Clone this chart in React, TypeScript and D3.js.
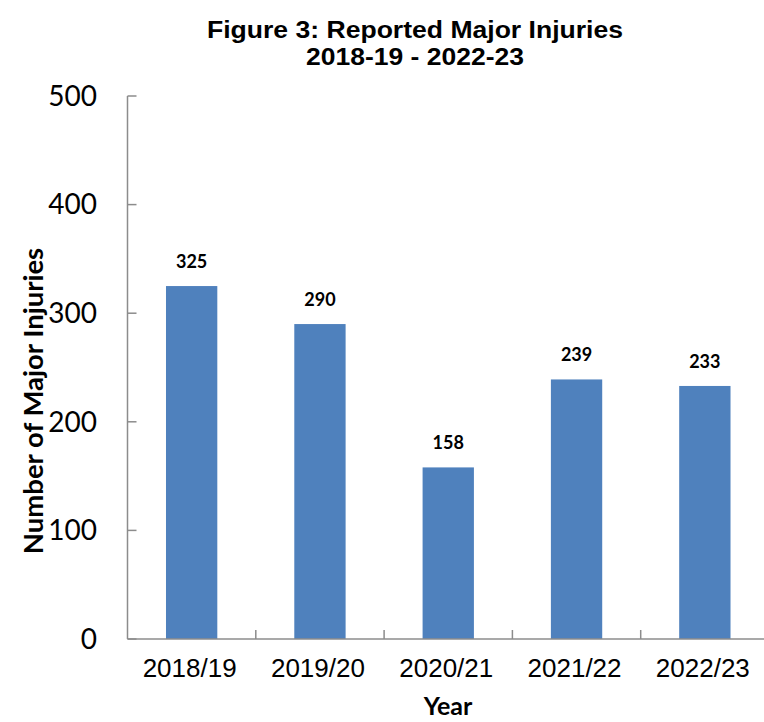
import React from "react";
import * as d3 from "d3";

const categories = ["2018/19", "2019/20", "2020/21", "2021/22", "2022/23"];
const values = [325, 290, 158, 239, 233];
const yTicks = [0, 100, 200, 300, 400, 500];
const titleLines = ["Figure 3: Reported Major Injuries", "2018-19 - 2022-23"];
const titleWidths = [416, 218];
const xTitle = "Year";
const yTitle = "Number of Major Injuries";

export default function App() {
  const W = 764, H = 722;
  const left = 127.5, right = 769, top = 96, bottom = 639;
  const x = d3.scaleBand<string>().domain(categories).range([left, right]).paddingInner(0.6).paddingOuter(0.3);
  const xb = d3.scaleBand<string>().domain(categories).range([left, right]);
  const y = d3.scaleLinear().domain([0, 500]).range([bottom, top]);
  const axisColor = "#8c8c8c";
  return (
    <svg width={W} height={H} style={{ position: "absolute", left: 0, top: 0, background: "#fff" }}>
      {titleLines.map((t, i) => (
        <text key={i} x={415} y={38 + i * 27} textAnchor="middle" textLength={titleWidths[i]} lengthAdjust="spacingAndGlyphs" fontFamily="'Liberation Sans', Arial" fontWeight="bold" fontSize={23} fill="#000">{t}</text>
      ))}
      {values.map((v, i) => (
        <g key={i}>
          <rect x={x(categories[i])} y={y(v)} width={x.bandwidth()} height={y(0) - y(v)} fill="#4F81BD" />
          <text x={x(categories[i])! + x.bandwidth() / 2} y={y(v) - 18} textAnchor="middle" fontFamily="Lato, 'Open Sans', sans-serif" fontWeight="bold" fontSize={18} fill="#000">{v}</text>
        </g>
      ))}
      <line x1={left} x2={left} y1={top} y2={bottom} stroke={axisColor} strokeWidth={1.5} />
      <line x1={left} x2={right} y1={bottom} y2={bottom} stroke={axisColor} strokeWidth={1.5} />
      {yTicks.map((t) => (
        <g key={t}>
          <line x1={left} x2={left + 9} y1={y(t)} y2={y(t)} stroke={axisColor} strokeWidth={1.5} />
          <text x={97} y={y(t)} dy="0.35em" textAnchor="end" fontFamily="Lato, 'Open Sans', sans-serif" fontSize={28} fill="#000">{t}</text>
        </g>
      ))}
      {categories.slice(1).map((c) => (
        <line key={c} x1={xb(c)} x2={xb(c)} y1={bottom} y2={bottom - 9} stroke={axisColor} strokeWidth={1.5} />
      ))}
      {categories.map((c) => (
        <text key={c} x={xb(c)! + xb.bandwidth() / 2 - 2} y={677} textAnchor="middle" fontFamily="'Liberation Sans', Arial" fontSize={26} fill="#000">{c}</text>
      ))}
      <text x={448} y={715} textAnchor="middle" fontFamily="Lato, 'Open Sans', sans-serif" fontWeight="bold" fontSize={25} fill="#000">{xTitle}</text>
      <text transform={`translate(43,401) rotate(-90)`} textAnchor="middle" fontFamily="Lato, 'Open Sans', sans-serif" fontWeight="bold" fontSize={27.5} fill="#000">{yTitle}</text>
    </svg>
  );
}
